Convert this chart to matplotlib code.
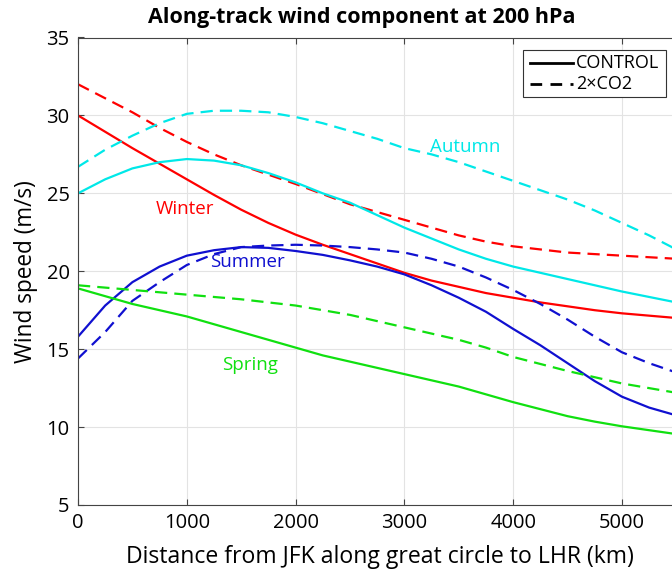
import matplotlib
matplotlib.use("Agg")
import matplotlib.pyplot as plt
from matplotlib.lines import Line2D
from matplotlib.patches import Rectangle

distance_km = [0, 250, 500, 750, 1000, 1250, 1500, 1750, 2000, 2250, 2500, 2750,
               3000, 3250, 3500, 3750, 4000, 4250, 4500, 4750, 5000, 5250, 5500]

winter_ctrl = [30.0, 28.95, 27.9, 26.9, 25.9, 24.9, 23.95, 23.1, 22.35, 21.7, 21.1, 20.5,
               19.9, 19.4, 19.0, 18.6, 18.3, 18.0, 17.75, 17.5, 17.3, 17.15, 17.0]
winter_co2 = [32.0, 31.1, 30.2, 29.2, 28.3, 27.5, 26.8, 26.2, 25.6, 24.95, 24.3, 23.8,
              23.3, 22.8, 22.3, 21.9, 21.6, 21.4, 21.2, 21.1, 21.0, 20.9, 20.8]
autumn_ctrl = [25.0, 25.9, 26.6, 27.0, 27.2, 27.1, 26.8, 26.3, 25.7, 25.0, 24.4, 23.6,
               22.8, 22.1, 21.4, 20.8, 20.3, 19.9, 19.5, 19.1, 18.7, 18.35, 18.0]
autumn_co2 = [26.7, 27.8, 28.7, 29.5, 30.1, 30.3, 30.3, 30.2, 29.9, 29.5, 29.0, 28.5,
              27.9, 27.5, 27.0, 26.4, 25.8, 25.2, 24.6, 23.9, 23.1, 22.3, 21.4]
summer_ctrl = [15.8, 17.8, 19.3, 20.3, 21.0, 21.35, 21.55, 21.5, 21.3, 21.05, 20.7, 20.3,
               19.8, 19.1, 18.3, 17.4, 16.3, 15.25, 14.1, 12.95, 11.95, 11.25, 10.75]
summer_co2 = [14.4, 16.1, 18.1, 19.3, 20.4, 21.1, 21.55, 21.65, 21.7, 21.65, 21.55, 21.4,
              21.2, 20.8, 20.3, 19.6, 18.8, 17.9, 16.9, 15.8, 14.8, 14.1, 13.5]
spring_ctrl = [18.9, 18.4, 17.9, 17.5, 17.1, 16.6, 16.1, 15.6, 15.1, 14.6, 14.2, 13.8,
               13.4, 13.0, 12.6, 12.1, 11.6, 11.15, 10.7, 10.35, 10.05, 9.8, 9.55]
spring_co2 = [19.1, 18.95, 18.8, 18.65, 18.5, 18.35, 18.2, 18.0, 17.8, 17.5, 17.2, 16.8,
              16.4, 16.0, 15.6, 15.1, 14.5, 14.05, 13.6, 13.2, 12.8, 12.5, 12.2]

season_names = ["Winter", "Autumn", "Summer", "Spring"]
season_label_pos = [(983, 24.0), (3557, 28.0), (1562, 20.6), (1581, 14.0)]

colors = {"Winter": "#FF0000", "Autumn": "#00E8E8", "Summer": "#1010D0", "Spring": "#10E010"}

xticks = [0, 1000, 2000, 3000, 4000, 5000]
yticks = [5, 10, 15, 20, 25, 30, 35]
legend_labels = ["CONTROL", "2\u00d7CO2"]

plt.rcParams['font.family'] = ['Open Sans', 'DejaVu Sans']

W, H = 672, 573
fig = plt.figure(figsize=(W / 100, H / 100), dpi=100)
ax = fig.add_axes([78 / W, 1 - 505 / H, 1 - 78 / W, (505 - 37.5) / H])

def fx(px):
    return px / W

def fy(py):
    return 1 - py / H

series = {
    "Winter": (winter_ctrl, winter_co2),
    "Autumn": (autumn_ctrl, autumn_co2),
    "Summer": (summer_ctrl, summer_co2),
    "Spring": (spring_ctrl, spring_co2),
}
lw = 1.6
dash = (0, (5.5, 3.2))
for name in season_names:
    c_ctrl, c_co2 = series[name]
    col = colors[name]
    ax.plot(distance_km, c_ctrl, color=col, lw=lw, ls='-', solid_joinstyle='round')
    ax.plot(distance_km, c_co2, color=col, lw=lw, ls=dash)

for name, (lx, ly) in zip(season_names, season_label_pos):
    ax.text(lx, ly, name, color=colors[name], fontsize=13.5, ha='center', va='center')

ax.set_xlim(0, 5460)
ax.set_ylim(5, 35)
ax.set_xticks(xticks)
ax.set_yticks(yticks)
ax.grid(True, color='#E3E3E3', lw=0.8)
ax.set_axisbelow(True)
ax.tick_params(direction='in', top=True, right=False, labelsize=14.5, length=4,
               color='#444444', pad=6)
for s in ['left', 'bottom', 'top']:
    ax.spines[s].set_color('#444444')
    ax.spines[s].set_linewidth(0.8)
ax.spines['right'].set_visible(False)

fig.text(fx(380), fy(557), "Distance from JFK along great circle to LHR (km)",
         fontsize=16.6, ha='center', va='center')
ax.set_ylabel("Wind speed (m/s)", fontsize=16.3, labelpad=6)
fig.text(fx(362), fy(17), "Along-track wind component at 200 hPa",
         fontsize=15.5, fontweight='bold', ha='center', va='center')

# legend box
fig.patches.append(Rectangle((fx(523), fy(97)), fx(666) - fx(523), fy(50) - fy(97),
                             transform=fig.transFigure, fill=True, facecolor='white',
                             edgecolor='#333333', lw=0.8, zorder=5))
for i, (lab, ls) in enumerate(zip(legend_labels, ['-', (0, (4.2, 3.0))])):
    yy = fy(63 + 21 * i)
    fig.add_artist(Line2D([fx(530), fx(573)], [yy, yy], transform=fig.transFigure,
                          color='black', lw=2.0, ls=ls, zorder=6))
    fig.text(fx(576), yy, lab, fontsize=13, ha='left', va='center', zorder=6)

fig.savefig("out.png", dpi=100)
